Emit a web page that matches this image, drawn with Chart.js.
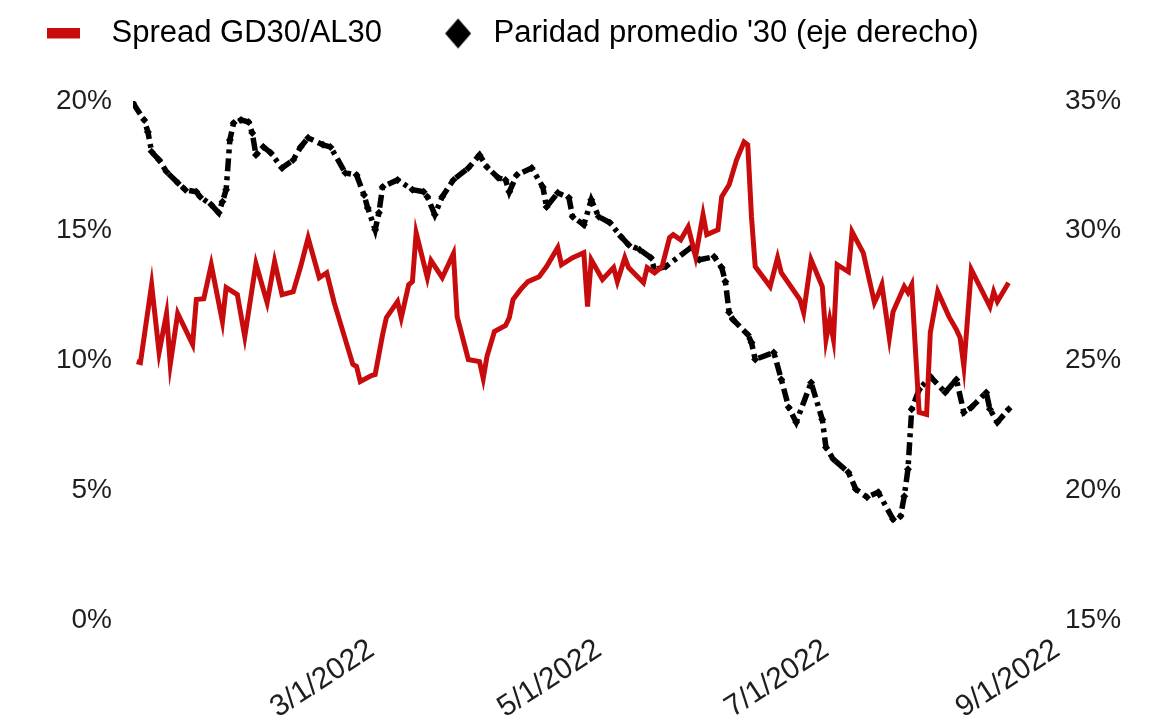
<!DOCTYPE html>
<html>
<head>
<meta charset="utf-8">
<script src="https://cdn.jsdelivr.net/npm/chart.js@4"></script>
<style>
  html, body { margin: 0; padding: 0; background: #fff; }
  .wrap { width: 1173px; height: 728px; }
</style>
</head>
<body>
<div class="wrap"><canvas id="myChart"></canvas></div>
<script>
// data
var spreadDates = ['2021-12-28','2021-12-29','2022-01-01','2022-01-03','2022-01-05','2022-01-06','2022-01-08','2022-01-12','2022-01-13','2022-01-15',
  '2022-01-17','2022-01-20','2022-01-21','2022-01-24','2022-01-26','2022-01-29','2022-02-01','2022-02-03','2022-02-05','2022-02-08',
  '2022-02-10','2022-02-12','2022-02-15','2022-02-17','2022-02-19','2022-02-24','2022-02-25','2022-02-26','2022-03-01','2022-03-02',
  '2022-03-04','2022-03-05','2022-03-08','2022-03-09','2022-03-11','2022-03-12','2022-03-13','2022-03-16','2022-03-17','2022-03-20',
  '2022-03-23','2022-03-24','2022-03-27','2022-03-30','2022-03-31','2022-04-01','2022-04-03','2022-04-06','2022-04-07','2022-04-08',
  '2022-04-10','2022-04-12','2022-04-15','2022-04-17','2022-04-20','2022-04-21','2022-04-24','2022-04-27','2022-04-28','2022-04-29',
  '2022-05-02','2022-05-05','2022-05-06','2022-05-08','2022-05-09','2022-05-13','2022-05-14','2022-05-16','2022-05-18','2022-05-20',
  '2022-05-21','2022-05-23','2022-05-25','2022-05-27','2022-05-29','2022-05-30','2022-06-02','2022-06-03','2022-06-05','2022-06-07',
  '2022-06-09','2022-06-10','2022-06-11','2022-06-12','2022-06-16','2022-06-18','2022-06-19','2022-06-24','2022-06-25','2022-06-27',
  '2022-06-30','2022-07-01','2022-07-02','2022-07-03','2022-07-04','2022-07-07','2022-07-08','2022-07-11','2022-07-14','2022-07-15',
  '2022-07-16','2022-07-18','2022-07-19','2022-07-22','2022-07-23','2022-07-24','2022-07-25','2022-07-26','2022-07-28','2022-07-29',
  '2022-07-31','2022-08-03','2022-08-05','2022-08-06','2022-08-07','2022-08-09','2022-08-14','2022-08-15','2022-08-16','2022-08-19'];
var spreadValues = [9.96, 9.92, 12.92, 10.31, 11.81, 9.85, 11.81, 10.62, 12.35, 12.38,
  13.69, 11.5, 12.81, 12.54, 10.92, 13.73, 12.23, 13.81, 12.54, 12.65,
  13.62, 14.73, 13.19, 13.38, 12.23, 9.85, 9.77, 9.19, 9.42, 9.46,
  11.0, 11.65, 12.27, 11.65, 12.92, 13.04, 14.92, 13.19, 13.85, 13.19,
  14.12, 11.69, 10.04, 9.96, 9.31, 10.15, 11.12, 11.35, 11.65, 12.35,
  12.73, 13.04, 13.23, 13.62, 14.35, 13.69, 13.96, 14.15, 12.08, 13.88,
  13.12, 13.58, 13.04, 13.96, 13.58, 13.0, 13.58, 13.38, 13.62, 14.73,
  14.85, 14.65, 15.15, 14.0, 15.62, 14.85, 15.04, 16.31, 16.77, 17.73,
  18.42, 18.31, 15.54, 13.62, 12.85, 13.96, 13.38, 12.35, 11.85, 13.88,
  12.85, 10.81, 11.58, 10.81, 13.69, 13.42, 14.96, 14.15, 12.23, 12.54,
  12.92, 10.88, 11.88, 12.85, 12.62, 12.92, 10.42, 8.0, 7.92, 11.08,
  12.65, 11.69, 11.19, 10.88, 9.77, 13.5, 12.08, 12.65, 12.27, 13.0];

var paridadDates = ['2021-12-27','2021-12-30','2021-12-31','2022-01-01','2022-01-03','2022-01-05','2022-01-08','2022-01-10','2022-01-13','2022-01-14',
  '2022-01-17','2022-01-19','2022-01-20','2022-01-21','2022-01-22','2022-01-23','2022-01-25','2022-01-27','2022-01-28','2022-01-29',
  '2022-01-31','2022-02-02','2022-02-05','2022-02-08','2022-02-10','2022-02-12','2022-02-16','2022-02-18','2022-02-22','2022-02-25',
  '2022-02-27','2022-02-28','2022-03-02','2022-03-03','2022-03-04','2022-03-08','2022-03-12','2022-03-15','2022-03-16','2022-03-18',
  '2022-03-20','2022-03-23','2022-03-27','2022-03-30','2022-04-01','2022-04-04','2022-04-06','2022-04-07','2022-04-09','2022-04-13',
  '2022-04-16','2022-04-17','2022-04-20','2022-04-23','2022-04-24','2022-04-27','2022-04-29','2022-05-01','2022-05-04','2022-05-07',
  '2022-05-09','2022-05-12','2022-05-15','2022-05-16','2022-05-19','2022-05-26','2022-05-28','2022-06-01','2022-06-03','2022-06-04',
  '2022-06-05','2022-06-06','2022-06-10','2022-06-11','2022-06-12','2022-06-17','2022-06-19','2022-06-21','2022-06-23','2022-06-27',
  '2022-06-30','2022-07-01','2022-07-03','2022-07-07','2022-07-09','2022-07-12','2022-07-15','2022-07-19','2022-07-21','2022-07-22',
  '2022-07-23','2022-07-24','2022-07-26','2022-07-29','2022-08-02','2022-08-05','2022-08-07','2022-08-09','2022-08-13','2022-08-14',
  '2022-08-16','2022-08-19'];
var paridadValues = [34.92, 34.27, 33.81, 33.04, 32.73, 32.27, 31.85, 31.58, 31.5, 31.31,
  31.0, 30.69, 31.12, 31.58, 33.5, 34.15, 34.27, 34.19, 33.77, 32.92,
  33.23, 33.0, 32.42, 32.73, 33.23, 33.58, 33.31, 33.23, 32.23, 32.15,
  31.38, 30.88, 30.04, 30.69, 31.69, 31.96, 31.58, 31.5, 31.31, 30.62,
  31.31, 31.96, 32.42, 32.92, 32.46, 32.04, 31.96, 31.5, 32.15, 32.42,
  31.69, 30.92, 31.46, 31.27, 30.54, 30.23, 31.19, 30.54, 30.31, 29.77,
  29.46, 29.27, 28.96, 28.5, 28.62, 29.38, 28.88, 29.0, 28.58, 28.04,
  26.85, 26.58, 26.0, 25.69, 25.04, 25.31, 24.27, 23.19, 22.62, 24.15,
  22.73, 21.65, 21.19, 20.69, 20.04, 19.73, 19.92, 18.88, 19.0, 19.77,
  20.81, 23.12, 23.88, 24.38, 23.77, 24.27, 23.0, 23.19, 23.77, 23.12,
  22.62, 23.12];

var tickDates = ['2022-03-01', '2022-05-01', '2022-07-01', '2022-09-01'];
var tickLabels = ['3/1/2022', '5/1/2022', '7/1/2022', '9/1/2022'];
var leftTicks = [0, 5, 10, 15, 20];
var rightTicks = [15, 20, 25, 30, 35];

var RED = 'rgb(200,12,14)';
var TXT = '#1e1e1e';
var FONT = "'Liberation Sans', Arial, sans-serif";

// days from 1 Jan 2022
function toDay(s) {
    var p = s.split('-');
    return (Date.UTC(+p[0], +p[1] - 1, +p[2]) - Date.UTC(2022, 0, 1)) / 86400000;
}

function pairs(dates, vals) {
    var out = [];
    for (var i = 0; i < dates.length; i++) {
        out.push({ x: toDay(dates[i]), y: vals[i] });
    }
    return out;
}

// legend markers
function redMark() {
    var c = document.createElement('canvas');
    c.width = 86; c.height = 12;
    var g = c.getContext('2d');
    g.fillStyle = RED;
    g.fillRect(43 + 10 - 16, 0, 33, 11);
    return c;
}
function diamondMark() {
    var c = document.createElement('canvas');
    c.width = 86; c.height = 32;
    var g = c.getContext('2d');
    var cx = 43 + 23;
    g.fillStyle = '#000';
    g.beginPath();
    g.moveTo(cx, 1);
    g.lineTo(cx + 13, 16);
    g.lineTo(cx, 31);
    g.lineTo(cx - 13, 16);
    g.closePath();
    g.fill();
    return c;
}
var marks = [redMark(), diamondMark()];

var legendHeight = {
    id: 'legendHeight',
    beforeInit: function (chart) {
        var fit = chart.legend.fit;
        chart.legend.fit = function () {
            fit.bind(chart.legend)();
            this.height = 93;
        };
    }
};

var ctx = document.getElementById('myChart').getContext('2d');
var myChart = new Chart(ctx, {
    type: 'line',
    data: {
        datasets: [{
            label: 'Spread GD30/AL30',
            data: pairs(spreadDates, spreadValues),
            yAxisID: 'y',
            borderColor: RED,
            backgroundColor: RED,
            borderWidth: 5,
            pointRadius: 0,
            tension: 0
        }, {
            label: "Paridad promedio '30 (eje derecho)",
            data: pairs(paridadDates, paridadValues),
            yAxisID: 'y1',
            borderColor: '#000',
            backgroundColor: '#000',
            borderWidth: 5.5,
            borderDash: [13, 5, 4, 5],
            pointStyle: 'rectRot',
            pointRadius: 4,
            pointBorderWidth: 0,
            tension: 0
        }]
    },
    options: {
        responsive: true,
        maintainAspectRatio: false,
        animation: false,
        layout: { padding: { top: 8, left: 0, right: 0, bottom: 0 } },
        plugins: {
            tooltip: { enabled: false },
            legend: {
                position: 'top',
                align: 'start',
                labels: {
                    usePointStyle: true,
                    pointStyleWidth: 86,
                    padding: 10,
                    color: TXT,
                    font: { family: FONT, size: 31 },
                    generateLabels: function (chart) {
                        return chart.data.datasets.map(function (ds, i) {
                            return {
                                text: ds.label,
                                pointStyle: marks[i],
                                fillStyle: ds.borderColor,
                                strokeStyle: ds.borderColor,
                                lineWidth: 0,
                                hidden: false,
                                datasetIndex: i
                            };
                        });
                    }
                }
            }
        },
        scales: {
            x: {
                type: 'linear',
                min: toDay('2021-12-27'),
                max: toDay('2022-09-01'),
                grid: { display: false, drawTicks: false },
                border: { display: false },
                afterBuildTicks: function (scale) {
                    scale.ticks = tickDates.map(function (d) { return { value: toDay(d) }; });
                },
                afterFit: function (scale) { scale.height = 108; },
                ticks: {
                    autoSkip: false,
                    minRotation: 33,
                    maxRotation: 33,
                    padding: 12,
                    color: TXT,
                    font: { family: FONT, size: 30 },
                    callback: function (value, index) { return tickLabels[index]; }
                }
            },
            y: {
                position: 'left',
                min: 0,
                max: 20,
                grid: { display: false, drawTicks: false },
                border: { display: false },
                afterBuildTicks: function (scale) {
                    scale.ticks = leftTicks.map(function (v) { return { value: v }; });
                },
                afterFit: function (scale) { scale.width = 133; },
                ticks: {
                    padding: 21,
                    color: TXT,
                    font: { family: FONT, size: 28 },
                    callback: function (v) { return v + '%'; }
                }
            },
            y1: {
                position: 'right',
                min: 15,
                max: 35,
                grid: { display: false, drawTicks: false },
                border: { display: false },
                afterBuildTicks: function (scale) {
                    scale.ticks = rightTicks.map(function (v) { return { value: v }; });
                },
                afterFit: function (scale) { scale.width = 116; },
                ticks: {
                    padding: 8,
                    color: TXT,
                    font: { family: FONT, size: 28 },
                    callback: function (v) { return v + '%'; }
                }
            }
        }
    },
    plugins: [legendHeight]
});
</script>
</body>
</html>
